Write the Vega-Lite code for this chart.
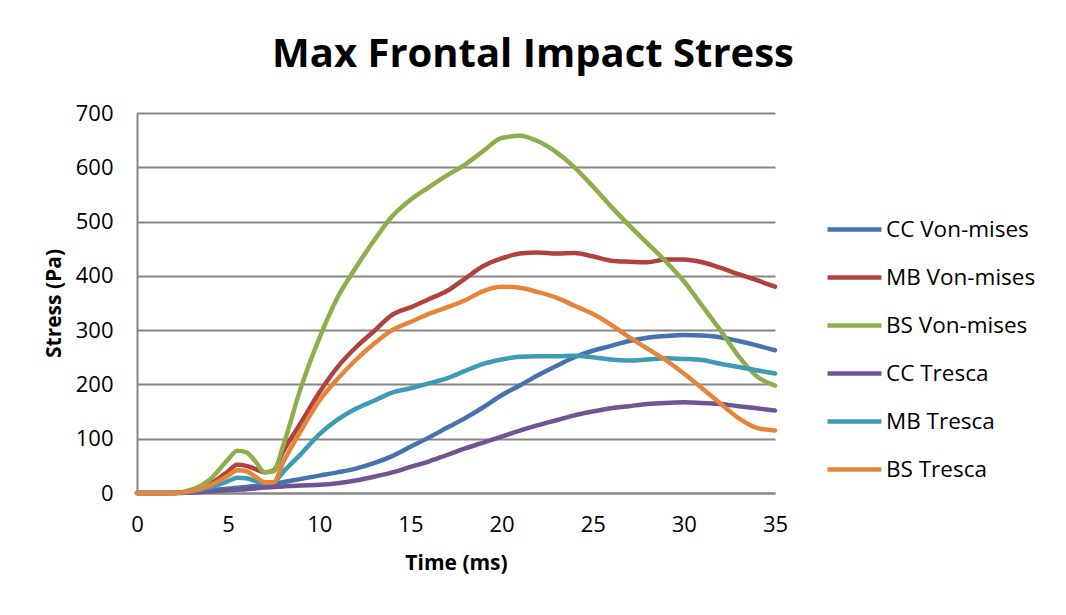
{
  "$schema": "https://vega.github.io/schema/vega-lite/v6.json",
  "width": 638,
  "height": 380,
  "autosize": {"type": "none"},
  "padding": {"left": 137, "top": 113, "right": 291, "bottom": 122},
  "background": "white",
  "title": {
    "text": "Max Frontal Impact Stress",
    "font": "Open Sans",
    "fontSize": 40,
    "fontWeight": "bold",
    "color": "black",
    "anchor": "middle",
    "dx": 77,
    "baseline": "alphabetic",
    "offset": -5
  },
  "data": {
    "values": [
      {"t": 0, "CC Von-mises": 0, "MB Von-mises": 0, "BS Von-mises": 0, "CC Tresca": 0, "MB Tresca": 0, "BS Tresca": 0},
      {"t": 1, "CC Von-mises": 0, "MB Von-mises": 0, "BS Von-mises": 0, "CC Tresca": 0, "MB Tresca": 0, "BS Tresca": 0},
      {"t": 2, "CC Von-mises": 0, "MB Von-mises": 0, "BS Von-mises": 0, "CC Tresca": 0, "MB Tresca": 0, "BS Tresca": 0},
      {"t": 3, "CC Von-mises": 2, "MB Von-mises": 4, "BS Von-mises": 6, "CC Tresca": 1, "MB Tresca": 3, "BS Tresca": 4},
      {"t": 4, "CC Von-mises": 5, "MB Von-mises": 16, "BS Von-mises": 25, "CC Tresca": 3, "MB Tresca": 10, "BS Tresca": 14},
      {"t": 5, "CC Von-mises": 8, "MB Von-mises": 40, "BS Von-mises": 62, "CC Tresca": 5, "MB Tresca": 22, "BS Tresca": 32},
      {"t": 5.5, "CC Von-mises": 9.5, "MB Von-mises": 52, "BS Von-mises": 78, "CC Tresca": 6, "MB Tresca": 28, "BS Tresca": 42},
      {"t": 6, "CC Von-mises": 11, "MB Von-mises": 50, "BS Von-mises": 75, "CC Tresca": 7, "MB Tresca": 27, "BS Tresca": 40},
      {"t": 6.5, "CC Von-mises": 13, "MB Von-mises": 44, "BS Von-mises": 58, "CC Tresca": 8.5, "MB Tresca": 22, "BS Tresca": 30},
      {"t": 7, "CC Von-mises": 15, "MB Von-mises": 38, "BS Von-mises": 38, "CC Tresca": 10, "MB Tresca": 18, "BS Tresca": 20},
      {"t": 7.5, "CC Von-mises": 17.5, "MB Von-mises": 42, "BS Von-mises": 40, "CC Tresca": 11, "MB Tresca": 20, "BS Tresca": 20},
      {"t": 8, "CC Von-mises": 20, "MB Von-mises": 75, "BS Von-mises": 85, "CC Tresca": 12, "MB Tresca": 38, "BS Tresca": 55},
      {"t": 9, "CC Von-mises": 26, "MB Von-mises": 130, "BS Von-mises": 195, "CC Tresca": 14, "MB Tresca": 72, "BS Tresca": 115},
      {"t": 10, "CC Von-mises": 32, "MB Von-mises": 185, "BS Von-mises": 285, "CC Tresca": 15, "MB Tresca": 108, "BS Tresca": 170},
      {"t": 11, "CC Von-mises": 38, "MB Von-mises": 232, "BS Von-mises": 360, "CC Tresca": 18, "MB Tresca": 135, "BS Tresca": 210},
      {"t": 12, "CC Von-mises": 45, "MB Von-mises": 268, "BS Von-mises": 415, "CC Tresca": 23, "MB Tresca": 155, "BS Tresca": 245},
      {"t": 13, "CC Von-mises": 55, "MB Von-mises": 298, "BS Von-mises": 465, "CC Tresca": 30, "MB Tresca": 170, "BS Tresca": 275},
      {"t": 14, "CC Von-mises": 68, "MB Von-mises": 328, "BS Von-mises": 510, "CC Tresca": 38, "MB Tresca": 185, "BS Tresca": 300},
      {"t": 15, "CC Von-mises": 85, "MB Von-mises": 342, "BS Von-mises": 540, "CC Tresca": 48, "MB Tresca": 193, "BS Tresca": 315},
      {"t": 16, "CC Von-mises": 102, "MB Von-mises": 357, "BS Von-mises": 563, "CC Tresca": 58, "MB Tresca": 202, "BS Tresca": 330},
      {"t": 17, "CC Von-mises": 120, "MB Von-mises": 372, "BS Von-mises": 585, "CC Tresca": 70, "MB Tresca": 211, "BS Tresca": 342},
      {"t": 18, "CC Von-mises": 138, "MB Von-mises": 395, "BS Von-mises": 605, "CC Tresca": 82, "MB Tresca": 225, "BS Tresca": 355},
      {"t": 19, "CC Von-mises": 158, "MB Von-mises": 418, "BS Von-mises": 630, "CC Tresca": 93, "MB Tresca": 238, "BS Tresca": 372},
      {"t": 20, "CC Von-mises": 180, "MB Von-mises": 432, "BS Von-mises": 654, "CC Tresca": 104, "MB Tresca": 246, "BS Tresca": 380},
      {"t": 21, "CC Von-mises": 198, "MB Von-mises": 441, "BS Von-mises": 658, "CC Tresca": 115, "MB Tresca": 251, "BS Tresca": 378},
      {"t": 22, "CC Von-mises": 217, "MB Von-mises": 443, "BS Von-mises": 648, "CC Tresca": 125, "MB Tresca": 252, "BS Tresca": 370},
      {"t": 23, "CC Von-mises": 234, "MB Von-mises": 441, "BS Von-mises": 628, "CC Tresca": 134, "MB Tresca": 252, "BS Tresca": 360},
      {"t": 24, "CC Von-mises": 250, "MB Von-mises": 442, "BS Von-mises": 600, "CC Tresca": 143, "MB Tresca": 253, "BS Tresca": 345},
      {"t": 25, "CC Von-mises": 262, "MB Von-mises": 436, "BS Von-mises": 565, "CC Tresca": 150, "MB Tresca": 250, "BS Tresca": 330},
      {"t": 26, "CC Von-mises": 271, "MB Von-mises": 428, "BS Von-mises": 528, "CC Tresca": 156, "MB Tresca": 246, "BS Tresca": 310},
      {"t": 27, "CC Von-mises": 280, "MB Von-mises": 426, "BS Von-mises": 493, "CC Tresca": 160, "MB Tresca": 244, "BS Tresca": 287},
      {"t": 28, "CC Von-mises": 286, "MB Von-mises": 425, "BS Von-mises": 460, "CC Tresca": 164, "MB Tresca": 246, "BS Tresca": 266},
      {"t": 29, "CC Von-mises": 289, "MB Von-mises": 430, "BS Von-mises": 427, "CC Tresca": 166, "MB Tresca": 248, "BS Tresca": 245},
      {"t": 30, "CC Von-mises": 291, "MB Von-mises": 430, "BS Von-mises": 390, "CC Tresca": 167, "MB Tresca": 247, "BS Tresca": 220},
      {"t": 31, "CC Von-mises": 290, "MB Von-mises": 425, "BS Von-mises": 345, "CC Tresca": 166, "MB Tresca": 245, "BS Tresca": 193},
      {"t": 32, "CC Von-mises": 287, "MB Von-mises": 415, "BS Von-mises": 300, "CC Tresca": 164, "MB Tresca": 238, "BS Tresca": 165},
      {"t": 33, "CC Von-mises": 280, "MB Von-mises": 403, "BS Von-mises": 252, "CC Tresca": 160, "MB Tresca": 232, "BS Tresca": 138},
      {"t": 34, "CC Von-mises": 272, "MB Von-mises": 392, "BS Von-mises": 215, "CC Tresca": 156, "MB Tresca": 226, "BS Tresca": 120},
      {"t": 35, "CC Von-mises": 263, "MB Von-mises": 380, "BS Von-mises": 198, "CC Tresca": 152, "MB Tresca": 220, "BS Tresca": 115}
    ]
  },
  "transform": [
    {"fold": ["CC Von-mises", "MB Von-mises", "BS Von-mises", "CC Tresca", "MB Tresca", "BS Tresca"], "as": ["series", "stress"]}
  ],
  "mark": {"type": "line", "interpolate": "monotone", "strokeWidth": 4.5, "strokeCap": "round", "strokeJoin": "round"},
  "encoding": {
    "x": {
      "field": "t",
      "type": "quantitative",
      "scale": {"domain": [0, 35], "nice": false},
      "axis": {
        "values": [0, 5, 10, 15, 20, 25, 30, 35],
        "title": "Time (ms)",
        "grid": false,
        "ticks": false,
        "domainColor": "#868686",
        "domainWidth": 2,
        "labelFont": "Open Sans",
        "labelFontSize": 22,
        "labelColor": "black",
        "labelPadding": 21,
        "labelFlush": false,
        "titleFont": "Open Sans",
        "titleFontSize": 21,
        "titleFontWeight": "bold",
        "titleColor": "black",
        "titlePadding": 17
      }
    },
    "y": {
      "field": "stress",
      "type": "quantitative",
      "scale": {"domain": [0, 700], "nice": false},
      "axis": {
        "values": [0, 100, 200, 300, 400, 500, 600, 700],
        "title": "Stress (Pa)",
        "grid": true,
        "gridColor": "#868686",
        "gridWidth": 2,
        "ticks": false,
        "domainColor": "#868686",
        "domainWidth": 2,
        "labelFont": "Open Sans",
        "labelFontSize": 22,
        "labelColor": "black",
        "labelPadding": 24,
        "labelFlush": false,
        "titleFont": "Open Sans",
        "titleFontSize": 21,
        "titleFontWeight": "bold",
        "titleColor": "black",
        "titlePadding": 11
      }
    },
    "color": {
      "field": "series",
      "type": "nominal",
      "sort": ["CC Von-mises", "MB Von-mises", "BS Von-mises", "CC Tresca", "MB Tresca", "BS Tresca"],
      "scale": {
        "domain": ["CC Von-mises", "MB Von-mises", "BS Von-mises", "CC Tresca", "MB Tresca", "BS Tresca"],
        "range": ["#4672AE", "#B0413E", "#8DAF4B", "#6E5592", "#3E9BB5", "#E6853A"]
      },
      "legend": {
        "title": null,
        "orient": "none",
        "legendX": 688,
        "legendY": 87,
        "symbolType": "stroke",
        "symbolSize": 2916,
        "symbolStrokeWidth": 4.5,
        "labelFont": "Open Sans",
        "labelFontSize": 22.5,
        "labelColor": "black",
        "labelOffset": 2,
        "rowPadding": 7
      }
    }
  },
  "config": {
    "view": {"stroke": null}
  }
}
